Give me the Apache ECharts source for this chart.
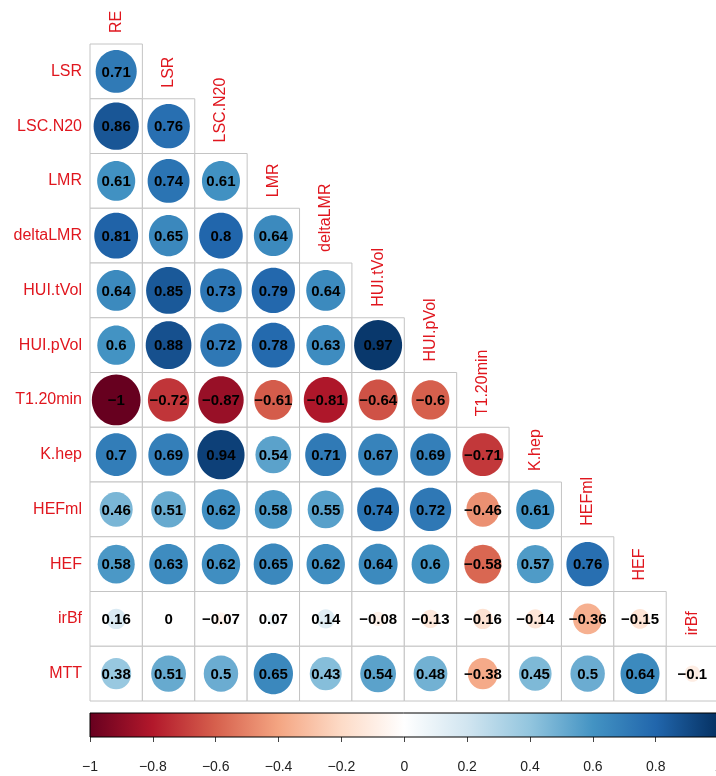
<!DOCTYPE html>
<html>
<head>
<meta charset="utf-8">
<script src="https://cdn.jsdelivr.net/npm/echarts@6/dist/echarts.min.js"></script>
<style>
  html, body { margin: 0; padding: 0; background: #fff; }
  #chart { width: 716px; height: 776px; }
</style>
</head>
<body>
<div id="chart"></div>
<script>
// Variables of the correlation matrix (lower triangle, no diagonal)
const columnVars = ['RE', 'LSR', 'LSC.N20', 'LMR', 'deltaLMR', 'HUI.tVol', 'HUI.pVol', 'T1.20min', 'K.hep', 'HEFml', 'HEF', 'irBf'];
const rowVars = ['LSR', 'LSC.N20', 'LMR', 'deltaLMR', 'HUI.tVol', 'HUI.pVol', 'T1.20min', 'K.hep', 'HEFml', 'HEF', 'irBf', 'MTT'];

// Correlation coefficients, one array per row (columns in columnVars order)
const rLSR     = [0.71];
const rLSCN20  = [0.86, 0.76];
const rLMR     = [0.61, 0.74, 0.61];
const rDeltaLMR = [0.81, 0.65, 0.8, 0.64];
const rHUItVol = [0.64, 0.85, 0.73, 0.79, 0.64];
const rHUIpVol = [0.6, 0.88, 0.72, 0.78, 0.63, 0.97];
const rT120min = [-1, -0.72, -0.87, -0.61, -0.81, -0.64, -0.6];
const rKhep    = [0.7, 0.69, 0.94, 0.54, 0.71, 0.67, 0.69, -0.71];
const rHEFml   = [0.46, 0.51, 0.62, 0.58, 0.55, 0.74, 0.72, -0.46, 0.61];
const rHEF     = [0.58, 0.63, 0.62, 0.65, 0.62, 0.64, 0.6, -0.58, 0.57, 0.76];
const rIrBf    = [0.16, 0, -0.07, 0.07, 0.14, -0.08, -0.13, -0.16, -0.14, -0.36, -0.15];
const rMTT     = [0.38, 0.51, 0.5, 0.65, 0.43, 0.54, 0.48, -0.38, 0.45, 0.5, 0.64, -0.1];
const corrRows = [rLSR, rLSCN20, rLMR, rDeltaLMR, rHUItVol, rHUIpVol, rT120min, rKhep, rHEFml, rHEF, rIrBf, rMTT];

// Diverging red-blue palette from -1 to 1
const paletteRdBu = ['#67001F', '#B2182B', '#D6604D', '#F4A582', '#FDDBC7', '#FFFFFF',
                     '#D1E5F0', '#92C5DE', '#4393C3', '#2166AC', '#053061'];
const legendRange = [-1, 1];
const legendStep = 0.2;

const FONT = '"Liberation Sans", Arial, Helvetica, sans-serif';
const LABEL_RED = '#e0161e';
const minusSign = v => String(v).replace('-', '\u2212');

const cells = [];
corrRows.forEach((vals, i) => vals.forEach((v, j) => cells.push([columnVars[j], rowVars[i], v])));
const diagonal = columnVars.map((c, j) => [c, rowVars[j]]);

const chart = echarts.init(document.getElementById('chart'), null, { renderer: 'canvas' });

chart.setOption({
  backgroundColor: '#fff',
  animation: false,
  grid: [
    { left: 90, top: 44, width: 628.6, height: 657, outerBoundsMode: 'none', containLabel: false },
    { left: 90, top: 713, width: 628.6, height: 24, outerBoundsMode: 'none', containLabel: false }
  ],
  xAxis: [
    { type: 'category', data: columnVars, gridIndex: 0, show: false },
    {
      type: 'value', gridIndex: 1, min: legendRange[0], max: legendRange[1], interval: legendStep,
      axisLine: { show: false, onZero: false },
      splitLine: { show: false },
      axisTick: { show: true, length: 5, lineStyle: { color: '#444' } },
      axisLabel: {
        margin: 23, color: '#222', fontSize: 14, fontFamily: FONT,
        showMinLabel: true, showMaxLabel: true,
        formatter: v => minusSign(+Number(v).toFixed(1))
      }
    }
  ],
  yAxis: [
    {
      type: 'category', data: rowVars, inverse: true, gridIndex: 0,
      axisLine: { show: false }, axisTick: { show: false }, splitLine: { show: false },
      axisLabel: { color: LABEL_RED, fontSize: 16, fontFamily: FONT, margin: 8 }
    },
    { type: 'value', gridIndex: 1, min: 0, max: 1, show: false }
  ],
  visualMap: {
    type: 'continuous', min: legendRange[0], max: legendRange[1], dimension: 2,
    seriesIndex: 1, show: false, inRange: { color: paletteRdBu }
  },
  series: [
    // grey cell borders
    {
      type: 'custom', xAxisIndex: 0, yAxisIndex: 0, data: cells, encode: { x: 0, y: 1 },
      renderItem: (params, api) => {
        const c = api.coord([api.value(0), api.value(1)]);
        const s = api.size([1, 1]);
        return {
          type: 'rect',
          shape: { x: c[0] - s[0] / 2, y: c[1] - s[1] / 2, width: s[0], height: s[1] },
          style: { fill: '#fff', stroke: '#c4c4c4', lineWidth: 1 }
        };
      }
    },
    // circles sized by |r|, coloured by r, with the coefficient printed on top
    {
      type: 'custom', xAxisIndex: 0, yAxisIndex: 0, data: cells, encode: { x: 0, y: 1 },
      renderItem: (params, api) => {
        const r = api.value(2);
        const c = api.coord([api.value(0), api.value(1)]);
        const s = api.size([1, 1]);
        const k = Math.sqrt(Math.abs(r));
        return {
          type: 'group',
          children: [
            {
              type: 'ellipse',
              shape: { cx: c[0], cy: c[1], rx: 0.465 * k * s[0], ry: 0.465 * k * s[1] },
              style: { fill: api.visual('color') }
            },
            {
              type: 'text', x: c[0], y: c[1] + 1,
              style: {
                text: minusSign(r), fill: '#000', font: 'bold 15px ' + FONT,
                align: 'center', verticalAlign: 'middle'
              }
            }
          ]
        };
      }
    },
    // column names, written upward above the first cell of each column
    {
      type: 'custom', xAxisIndex: 0, yAxisIndex: 0, data: diagonal, encode: { x: 0, y: 1 },
      renderItem: (params, api) => {
        const c = api.coord([api.value(0), api.value(1)]);
        const s = api.size([1, 1]);
        return {
          type: 'text', x: c[0], y: c[1] - s[1] / 2 - 11, rotation: Math.PI / 2,
          style: {
            text: columnVars[params.dataIndex], fill: LABEL_RED, font: '16px ' + FONT,
            align: 'left', verticalAlign: 'middle'
          }
        };
      }
    },
    // colour legend bar
    {
      type: 'custom', xAxisIndex: 1, yAxisIndex: 1, data: [legendRange], encode: { x: [0, 1] },
      renderItem: (params, api) => {
        const p0 = api.coord([api.value(0), 1]);
        const p1 = api.coord([api.value(1), 0]);
        return {
          type: 'rect',
          shape: { x: p0[0], y: p0[1], width: p1[0] - p0[0], height: p1[1] - p0[1] },
          style: {
            fill: {
              type: 'linear', x: 0, y: 0, x2: 1, y2: 0,
              colorStops: paletteRdBu.map((col, i) => ({ offset: i / (paletteRdBu.length - 1), color: col }))
            },
            stroke: '#000', lineWidth: 1
          }
        };
      }
    }
  ]
});
</script>
</body>
</html>
